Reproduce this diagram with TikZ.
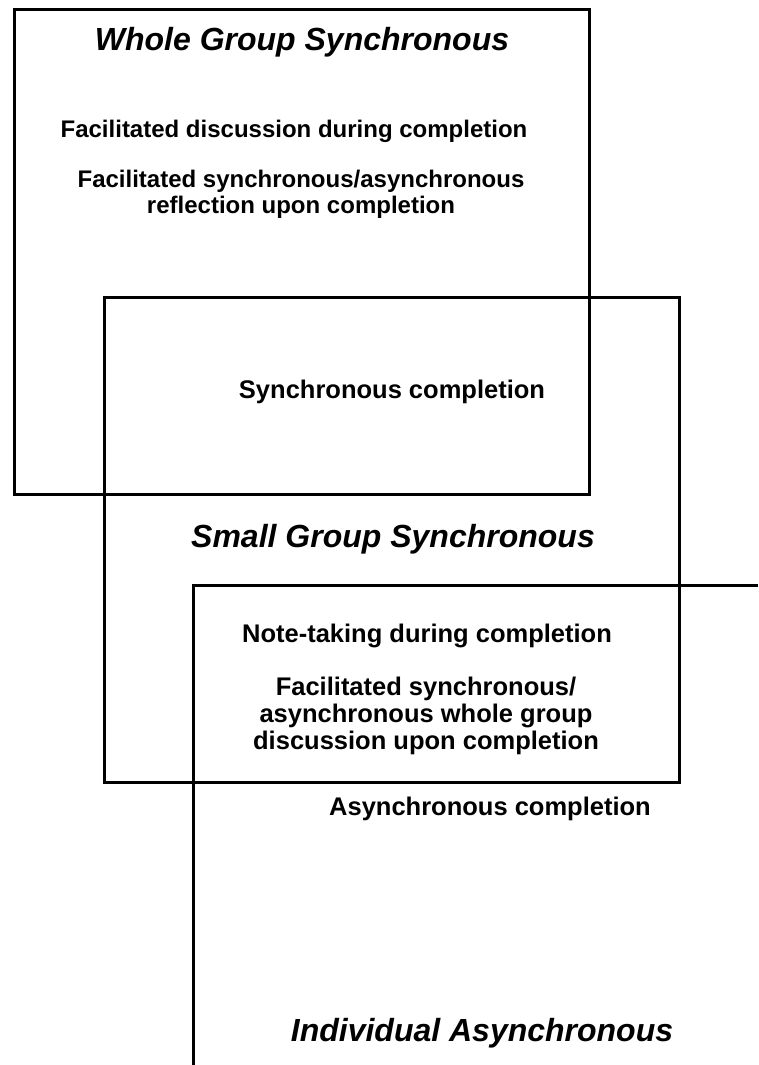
\documentclass[tikz,border=0pt]{standalone}
\usepackage{fontspec}
\setmainfont{Liberation Sans}
\usepackage{tikz}
\usetikzlibrary{positioning}

\tikzset{
  grouptitle/.style={font=\fontsize{32}{38}\selectfont\bfseries\itshape, anchor=base},
  activity/.style={font=\fontsize{24}{26}\selectfont\bfseries, align=center, anchor=base},
  activitybig/.style={font=\fontsize{25.5}{27}\selectfont\bfseries, align=center, anchor=base},
}

\begin{document}
\begin{tikzpicture}[x=1pt, y=-1pt, line width=3pt]
    \useasboundingbox (0,0) rectangle (758,1065);

    % Group frames
    \draw (14,10) rectangle (589,494);
    \draw (104,297) rectangle (679,782);
    \draw (758,585) -- (193,585) -- (193,1065);

    % Whole group (multi-line nodes sit on their last line)
    \node[grouptitle] (whole) at (302,51) {Whole Group Synchronous};
    \node[activity] (wholedisc) at (294,137) {Facilitated discussion during completion};
    \node[activity] (wholerefl) at (301,213) {Facilitated synchronous/asynchronous\\reflection upon completion};

    % Overlap
    \node[activitybig] (synccomp) at (392,398) {Synchronous completion};

    % Small group
    \node[grouptitle] (small) at (393,547) {Small Group Synchronous};
    \node[activitybig] (notes) at (427,642) {Note-taking during completion};
    \node[activitybig] (smalldisc) at (426,749) {Facilitated synchronous/\\asynchronous whole group\\discussion upon completion};

    % Individual
    \node[activitybig] (asynccomp) at (490,815) {Asynchronous completion};
    \node[grouptitle] (indiv) at (482,1041) {Individual Asynchronous};
\end{tikzpicture}
\end{document}
